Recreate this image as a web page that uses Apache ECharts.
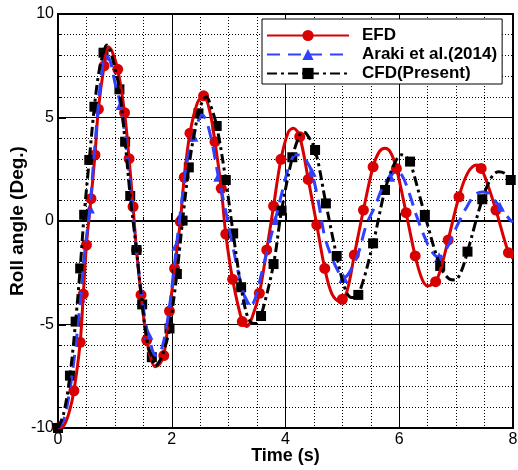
<!DOCTYPE html>
<html>
<head>
<meta charset="utf-8">
<script src="https://cdn.jsdelivr.net/npm/echarts@6/dist/echarts.min.js"></script>
<style>
html,body{margin:0;padding:0;background:#fff;}
#chart{width:518px;height:470px;}
</style>
</head>
<body>
<div id="chart"></div>
<script>
// ---- data (time s, roll angle deg) ----
const seriesNames = ['EFD', 'Araki et al.(2014)', 'CFD(Present)'];
const xTicks = [0, 2, 4, 6, 8];
const yTicks = [-10, -5, 0, 5, 10];

const efdCurve = [[0,-10],[0.1,-9.9],[0.2,-9.2],[0.28,-8.2],[0.39,-5.86],[0.445,-3.53],[0.5,-1.16],[0.58,1.08],[0.65,3.19],[0.71,5.4],[0.81,7.49],[0.885,8.42],[0.95,8.2],[1.05,7.33],[1.17,5.23],[1.25,3.01],[1.32,0.69],[1.38,-1.4],[1.46,-3.57],[1.56,-5.75],[1.64,-6.7],[1.71,-7.04],[1.79,-6.9],[1.86,-6.5],[1.96,-4.35],[2.05,-2.29],[2.15,-0.03],[2.22,2.11],[2.32,4.24],[2.45,5.7],[2.56,6.05],[2.66,5.4],[2.76,3.83],[2.87,1.58],[2.95,-0.63],[3.07,-2.82],[3.24,-4.86],[3.32,-5.1],[3.42,-4.6],[3.54,-3.49],[3.67,-1.4],[3.79,0.72],[3.92,2.98],[4.05,4.3],[4.14,4.48],[4.25,4.07],[4.4,2.01],[4.55,-0.19],[4.69,-2.29],[4.82,-3.55],[4.96,-3.9],[5.08,-3.4],[5.21,-1.64],[5.37,0.53],[5.54,2.62],[5.65,3.35],[5.75,3.51],[5.85,3.3],[5.95,2.54],[6.12,0.4],[6.28,-1.69],[6.4,-2.8],[6.5,-3.14],[6.64,-2.93],[6.75,-2.1],[6.86,-0.92],[7.05,1.17],[7.2,2.3],[7.36,2.7],[7.44,2.54],[7.55,1.8],[7.7,0.53],[7.92,-1.53],[8.0,-1.8]];
const efdMarks = [[0,-10],[0.28,-8.2],[0.39,-5.86],[0.445,-3.53],[0.5,-1.16],[0.58,1.08],[0.65,3.19],[0.71,5.4],[0.81,7.49],[1.05,7.33],[1.17,5.23],[1.25,3.01],[1.32,0.69],[1.38,-1.4],[1.46,-3.57],[1.56,-5.75],[1.86,-6.5],[1.96,-4.35],[2.05,-2.29],[2.15,-0.03],[2.22,2.11],[2.32,4.24],[2.56,6.05],[2.76,3.83],[2.87,1.58],[2.95,-0.63],[3.07,-2.82],[3.24,-4.86],[3.54,-3.49],[3.67,-1.4],[3.79,0.72],[3.92,2.98],[4.25,4.07],[4.4,2.01],[4.55,-0.19],[4.69,-2.29],[5.0,-3.78],[5.21,-1.64],[5.37,0.53],[5.54,2.62],[5.95,2.54],[6.12,0.4],[6.28,-1.69],[6.64,-2.93],[6.86,-0.92],[7.05,1.17],[7.44,2.54],[7.7,0.53],[7.92,-1.53]];

const arakiCurve = [[0,-10],[0.1,-9.6],[0.2,-8.3],[0.3,-6.3],[0.39,-3.98],[0.47,-1.5],[0.56,0.6],[0.63,3.0],[0.7,5.3],[0.77,7.2],[0.84,8.0],[0.92,7.7],[1.0,6.7],[1.1,5.6],[1.2,3.6],[1.3,0.9],[1.38,-1.4],[1.47,-3.6],[1.56,-5.2],[1.61,-5.7],[1.68,-6.4],[1.74,-6.5],[1.82,-6.2],[1.92,-4.9],[2.02,-2.8],[2.12,-0.3],[2.22,1.9],[2.3,3.3],[2.38,4.07],[2.46,4.8],[2.53,5.12],[2.6,4.9],[2.7,3.9],[2.82,2.14],[2.94,0.6],[3.05,-0.9],[3.18,-2.6],[3.3,-3.8],[3.38,-4.1],[3.46,-3.8],[3.58,-2.53],[3.7,-1.2],[3.82,0.05],[3.95,1.5],[4.07,2.7],[4.18,3.2],[4.28,3.15],[4.37,2.9],[4.46,2.38],[4.58,0.9],[4.69,-0.76],[4.82,-1.8],[4.93,-2.45],[5.02,-2.75],[5.12,-2.5],[5.28,-1.56],[5.42,-0.2],[5.57,0.69],[5.72,1.7],[5.84,2.14],[5.95,2.4],[6.05,2.2],[6.18,1.3],[6.31,0.2],[6.45,-0.8],[6.58,-1.5],[6.7,-1.75],[6.82,-1.4],[7.01,-0.27],[7.17,0.6],[7.33,1.26],[7.46,1.4],[7.56,1.35],[7.66,1.05],[7.77,0.69],[7.95,0.05],[8.0,-0.05]];
const arakiMarks = [[0,-10],[0.4,-3.7],[0.56,0.6],[0.84,8.0],[1.1,5.6],[1.59,-5.5],[2.08,-1.2],[2.38,4.07],[2.82,2.14],[3.3,-3.8],[3.82,0.05],[4.46,2.38],[5.02,-2.75],[5.84,2.14],[6.7,-1.75],[7.77,0.69]];

const cfdCurve = [[0,-10],[0.1,-9.3],[0.21,-7.47],[0.31,-4.86],[0.39,-2.29],[0.46,0.3],[0.55,2.95],[0.64,5.52],[0.72,7.2],[0.8,8.13],[0.855,8.5],[0.92,8.2],[1.0,7.4],[1.08,6.36],[1.18,3.83],[1.27,1.21],[1.38,-1.4],[1.48,-4.03],[1.58,-6.0],[1.65,-6.58],[1.71,-7.0],[1.78,-6.8],[1.87,-6.2],[1.96,-5.19],[2.09,-2.56],[2.19,0.02],[2.3,2.59],[2.4,4.3],[2.47,5.2],[2.55,5.85],[2.61,6.0],[2.68,5.6],[2.79,4.59],[2.95,1.98],[3.08,-0.6],[3.22,-3.2],[3.33,-4.6],[3.42,-4.94],[3.5,-4.95],[3.57,-4.59],[3.79,-2.08],[3.93,0.5],[4.12,3.08],[4.24,4.1],[4.3,4.3],[4.36,4.25],[4.52,3.43],[4.71,0.85],[4.9,-1.69],[5.05,-3.3],[5.16,-3.7],[5.28,-3.57],[5.54,-1.08],[5.75,1.5],[5.92,2.8],[6.04,3.2],[6.12,3.1],[6.19,2.87],[6.45,0.29],[6.72,-2.17],[6.88,-2.8],[6.98,-2.85],[7.08,-2.5],[7.2,-1.48],[7.46,1.05],[7.62,2.1],[7.74,2.38],[7.86,2.3],[7.96,1.98],[8.0,1.9]];
const cfdMarks = [[0,-10],[0.21,-7.47],[0.31,-4.86],[0.39,-2.29],[0.46,0.3],[0.55,2.95],[0.64,5.52],[0.8,8.13],[1.08,6.36],[1.18,3.83],[1.27,1.21],[1.38,-1.4],[1.48,-4.03],[1.65,-6.58],[1.96,-5.19],[2.09,-2.56],[2.19,0.02],[2.3,2.59],[2.47,5.2],[2.79,4.59],[2.95,1.98],[3.08,-0.6],[3.22,-3.2],[3.57,-4.59],[3.79,-2.08],[3.93,0.5],[4.12,3.08],[4.52,3.43],[4.71,0.85],[4.9,-1.69],[5.28,-3.57],[5.54,-1.08],[5.75,1.5],[6.19,2.87],[6.45,0.29],[6.72,-2.17],[7.2,-1.48],[7.46,1.05],[7.96,1.98]];

// ---- styles ----
const RED = '#d80000', BLUE = '#3040ff', BLACK = '#000000';
const FONT = '"Liberation Sans", Arial, sans-serif';

function lineSeries(name, data, color, dash, symbol) {
  return {
    name: name, type: 'line', data: data, smooth: 0.35,
    symbol: symbol, showSymbol: false, symbolSize: 10,
    lineStyle: { color: color, width: 3, type: dash },
    itemStyle: { color: color },
    silent: true
  };
}
function markSeries(name, data, color, symbol, size) {
  return {
    name: name, type: 'scatter', data: data, symbol: symbol, symbolSize: size,
    itemStyle: { color: color, opacity: 1 }, silent: true
  };
}

const chart = echarts.init(document.getElementById('chart'), null, { renderer: 'canvas' });
chart.setOption({
  animation: false,
  backgroundColor: '#ffffff',
  grid: { left: 58, right: 5, top: 14, bottom: 42, show: true, borderColor: '#000', borderWidth: 2, backgroundColor: 'transparent', containLabel: false, outerBoundsMode: 'none' },
  legend: {
    data: seriesNames,
    orient: 'vertical', left: 262, top: 19,
    itemWidth: 82, itemHeight: 14, itemGap: 2,
    padding: [8, 5, 2, 4],
    backgroundColor: '#fff', borderColor: '#000', borderWidth: 1,
    textStyle: { fontFamily: FONT, fontWeight: 'bold', fontSize: 17, color: '#000', lineHeight: 14, padding: [0, 0, 0, 8] },
    selectedMode: false
  },
  xAxis: {
    type: 'value', min: xTicks[0], max: xTicks[xTicks.length - 1], interval: 2,
    name: 'Time (s)', nameLocation: 'middle', nameGap: 19, nameMoveOverlap: false,
    nameTextStyle: { fontFamily: FONT, fontWeight: 'bold', fontSize: 18, color: '#000' },
    axisLine: { show: true, lineStyle: { color: '#000', width: 2 } },
    axisTick: { show: true, inside: true, length: 8, lineStyle: { color: '#000', width: 2 } },
    minorTick: { show: true, splitNumber: 4, length: 4, lineStyle: { color: '#000', width: 1 } },
    axisLabel: { fontFamily: FONT, fontSize: 16, color: '#000', margin: 4 },
    splitLine: { show: true, lineStyle: { color: '#000', width: 1 } },
    minorSplitLine: { show: true, lineStyle: { color: '#000', width: 1, type: [1, 2] } }
  },
  yAxis: {
    type: 'value', min: yTicks[0], max: yTicks[yTicks.length - 1], interval: 5,
    name: 'Roll angle (Deg.)', nameLocation: 'middle', nameGap: 31, nameMoveOverlap: false,
    nameTextStyle: { fontFamily: FONT, fontWeight: 'bold', fontSize: 19, color: '#000' },
    axisLine: { show: true, lineStyle: { color: '#000', width: 2 } },
    axisTick: { show: true, inside: true, length: 8, lineStyle: { color: '#000', width: 2 } },
    minorTick: { show: true, splitNumber: 5, length: 4, lineStyle: { color: '#000', width: 1 } },
    axisLabel: { fontFamily: FONT, fontSize: 16, color: '#000', margin: 4 },
    splitLine: { show: true, lineStyle: { color: '#000', width: 1 } },
    minorSplitLine: { show: true, lineStyle: { color: '#000', width: 1, type: [1, 2] } }
  },
  series: [
    lineSeries(seriesNames[0], efdCurve, RED, 'solid', 'circle'),
    markSeries(seriesNames[0], efdMarks, RED, 'circle', 11),
    lineSeries(seriesNames[1], arakiCurve, BLUE, [13, 8], 'triangle'),
    markSeries(seriesNames[1], arakiMarks, BLUE, 'triangle', 10),
    lineSeries(seriesNames[2], cfdCurve, BLACK, [10, 4, 3, 4], 'rect'),
    markSeries(seriesNames[2], cfdMarks, BLACK, 'rect', 10)
  ]
});
</script>
</body>
</html>
